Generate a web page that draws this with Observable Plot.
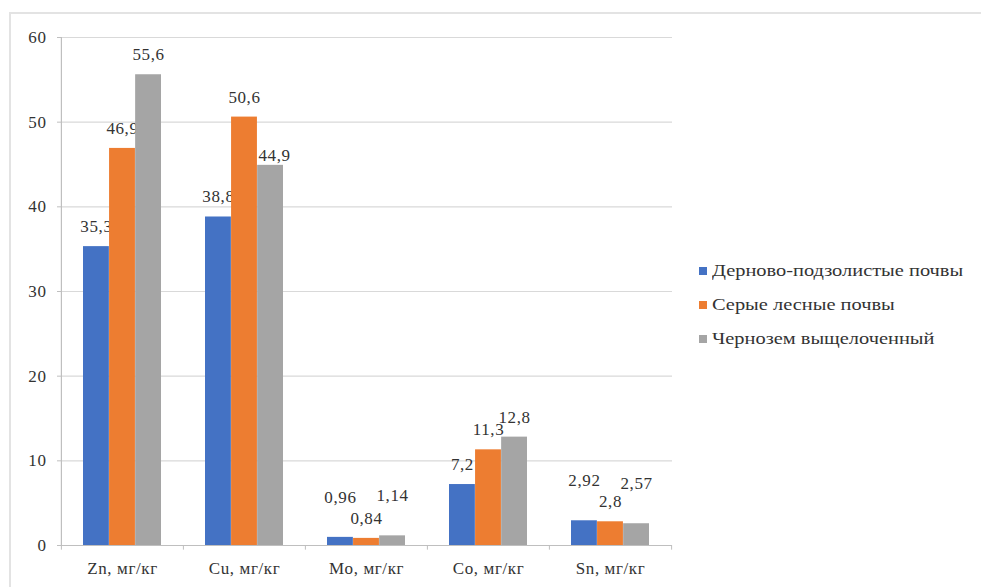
<!DOCTYPE html>
<html><head><meta charset="utf-8">
<script src="https://cdn.jsdelivr.net/npm/d3@7"></script>
<script src="https://cdn.jsdelivr.net/npm/@observablehq/plot@0.6"></script>
<style>
  html, body { margin: 0; padding: 0; background: #fff; width: 981px; height: 587px; overflow: hidden; }
  #wrap { position: relative; width: 981px; height: 587px; }
  #frame { position: absolute; left: 9px; top: 12px; width: 1000px; height: 600px; border: 2px solid #e3e3e3; box-sizing: border-box; }
  #chart { position: absolute; left: 0; top: 0; }
  #chart svg text { font-family: "Liberation Serif", "Times New Roman", Times, Tinos, "Noto Serif", "DejaVu Serif", serif; letter-spacing: 0.6px; }
  #legend { position: absolute; left: 699px; top: 254px; font-size: 17px; color: #333; }
  #legend .item { height: 34px; display: flex; align-items: center; white-space: nowrap; }
  #legend .sw { width: 8px; height: 8px; margin-right: 5px; flex: none; }
  #legend .lbl { display: inline-block; font-family: "Liberation Serif", "Times New Roman", Times, Tinos, "Noto Serif", "DejaVu Serif", serif; transform: scaleX(1.2); transform-origin: left center; }
</style>
</head><body>
<div id="wrap"><div id="frame"></div><div id="chart"></div><div id="legend"></div></div>
<script>
const categories = ["Zn, мг/кг", "Cu, мг/кг", "Mo, мг/кг", "Co, мг/кг", "Sn, мг/кг"];
const series = ["Дерново-подзолистые почвы", "Серые лесные почвы", "Чернозем выщелоченный"];
const podzolic = [35.3, 38.8, 0.96, 7.2, 2.92];
const greyForest = [46.9, 50.6, 0.84, 11.3, 2.8];
const chernozem = [55.6, 44.9, 1.14, 12.8, 2.57];
const yTicks = [0, 10, 20, 30, 40, 50, 60];
const colors = ["#4472C4", "#ED7D31", "#A5A5A5"];

const values = [podzolic, greyForest, chernozem];
const data = [];
series.forEach((s, si) => categories.forEach((c, ci) => data.push({cat: c, series: s, si, value: values[si][ci]})));

const W = 981, H = 587, mL = 61, mR = 309, mT = 37, mB = 42;
const pIn = 0.36, pOut = 0.18;
const step = (W - mL - mR) / categories.length;
const bw = step * (1 - pIn);
const sub = bw / 3;
const fmt = v => String(v).replace(".", ",");

// label placement tweaks (styling only)
const raised = new Set(["Mo, мг/кг|0", "Mo, мг/кг|2", "Sn, мг/кг|0", "Sn, мг/кг|2"]);
const lowered = new Set(["Cu, мг/кг|2"]);
const key = d => d.cat + "|" + d.si;

const marks = [
  Plot.ruleY(yTicks, {stroke: "#d9d9d9", strokeWidth: 1.2}),
  Plot.ruleY([0], {stroke: "#bfbfbf", strokeWidth: 1.2}),
  Plot.ruleX(categories, {x: d => d, y1: 0, y2: -0.55, dx: -step / 2, stroke: "#bfbfbf"}),
  Plot.ruleX([categories[categories.length - 1]], {x: d => d, y1: 0, y2: -0.55, dx: step / 2, stroke: "#bfbfbf"}),
  Plot.ruleX([categories[0]], {x: d => d, y1: 0, y2: 60, dx: -step / 2, stroke: "#bfbfbf", strokeWidth: 1.2}),
];
series.forEach((s, si) => {
  const sd = data.filter(d => d.si === si);
  marks.push(Plot.barY(sd, {x: "cat", y: "value", fill: colors[si], insetLeft: si * sub, insetRight: (2 - si) * sub}));
  const dxc = (si - 1) * sub;
  marks.push(Plot.text(sd.filter(d => !raised.has(key(d)) && !lowered.has(key(d))), {x: "cat", y: "value", text: d => fmt(d.value), dx: dxc, dy: -20, fill: "#333", fontSize: 17}));
  marks.push(Plot.text(sd.filter(d => raised.has(key(d))), {x: "cat", y: "value", text: d => fmt(d.value), dx: dxc, dy: -40, fill: "#333", fontSize: 17}));
  marks.push(Plot.text(sd.filter(d => lowered.has(key(d))), {x: "cat", y: "value", text: d => fmt(d.value), dx: dxc + 4, dy: -10, fill: "#333", fontSize: 17}));
});

const chart = Plot.plot({
  width: W, height: H,
  marginLeft: mL, marginRight: mR, marginTop: mT, marginBottom: mB,
  style: {background: "transparent", color: "#333", fontSize: "17px"},
  x: {domain: categories, paddingInner: pIn, paddingOuter: pOut, tickSize: 0, tickPadding: 16, label: null},
  y: {domain: [0, 60], ticks: yTicks, tickSize: 4, tickPadding: 11, label: null, tickFormat: d => d},
  marks
});
d3.select(chart).selectAll("[aria-label='y-axis tick']").attr("stroke", "#bfbfbf");
document.getElementById("chart").appendChild(chart);

const legend = d3.select("#legend");
series.forEach((s, i) => {
  const it = legend.append("div").attr("class", "item");
  it.append("div").attr("class", "sw").style("background", colors[i]);
  it.append("span").attr("class", "lbl").text(s);
});
</script>
</body></html>
